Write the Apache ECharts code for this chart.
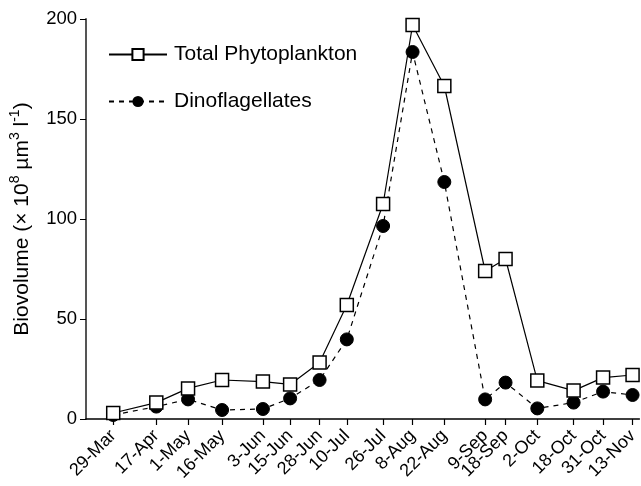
<!DOCTYPE html>
<html>
<head>
<meta charset="utf-8">
<script src="https://cdn.jsdelivr.net/npm/echarts@6/dist/echarts.min.js"></script>
<style>html,body{margin:0;padding:0;background:#fff}#c{width:641px;height:486px}</style>
</head>
<body>
<div id="c"></div>
<script>
var dates = ['2001-03-29','2001-04-17','2001-05-01','2001-05-16','2001-06-03','2001-06-15','2001-06-28','2001-07-10','2001-07-26','2001-08-08','2001-08-22','2001-09-09','2001-09-18','2001-10-02','2001-10-18','2001-10-31','2001-11-13'];
var dateLabels = ['29-Mar','17-Apr','1-May','16-May','3-Jun','15-Jun','28-Jun','10-Jul','26-Jul','8-Aug','22-Aug','9-Sep','18-Sep','2-Oct','18-Oct','31-Oct','13-Nov'];
var totalPhyto = [3, 8.2, 15.3, 19.5, 18.7, 17.3, 28.3, 57, 107.5, 197, 166.5, 74, 80, 19.2, 14.2, 20.7, 22];
var dinoflag = [2, 6.2, 9.8, 4.5, 5, 10.3, 19.5, 39.8, 96.5, 183.5, 118.5, 9.8, 18.2, 5.3, 8.2, 13.7, 12];
var xStart = '2001-03-17', xEnd = '2001-11-16';

function day(s){var p=s.split('-');return Math.round(Date.UTC(+p[0],+p[1]-1,+p[2])/86400000);}
var days = dates.map(day);
var chart = echarts.init(document.getElementById('c'));
var font = 'Liberation Sans, Arial, sans-serif';
chart.setOption({
  animation:false,
  grid:{left:82,right:1,top:19,bottom:67},
  legend:{
    orient:'vertical', left:103, top:39, itemGap:26, itemWidth:58, itemHeight:14,
    textStyle:{fontFamily:font,fontSize:21,color:'#000',padding:[0,0,0,2]},
    data:['Total Phytoplankton','Dinoflagellates']
  },
  xAxis:{
    type:'value',
    min:day(xStart), max:day(xEnd),
    axisLine:{lineStyle:{color:'#000',width:1.5}},
    splitLine:{show:false},
    axisTick:{customValues:days,length:6,lineStyle:{color:'#000',width:1.2}},
    axisLabel:{customValues:days,rotate:45,margin:14,fontFamily:font,fontSize:18,color:'#000',
      formatter:function(v){var i=days.indexOf(Math.round(v));return i>=0?dateLabels[i]:'';}}
  },
  yAxis:{
    type:'value', min:0, max:200, interval:50,
    name:'{a|Biovolume (× 10}{s|8}{a| µm}{s|3}{a| l}{s|-1}{a|)}', nameLocation:'middle', nameGap:53,
    nameTextStyle:{fontFamily:font,fontSize:21,color:'#000',
      rich:{a:{fontFamily:font,fontSize:21,color:'#000',lineHeight:25,verticalAlign:'bottom'},
            s:{fontFamily:font,fontSize:14,color:'#000',lineHeight:25,verticalAlign:'top'}}},
    axisLine:{show:true,lineStyle:{color:'#555',width:2}},
    axisTick:{show:true,length:6,lineStyle:{color:'#000'}},
    splitLine:{show:false},
    axisLabel:{fontFamily:font,fontSize:18.5,color:'#000',margin:9}
  },
  series:[
    {name:'Total Phytoplankton',type:'line',symbol:'rect',symbolSize:13,z:3,
     data:days.map(function(t,i){return [t,totalPhyto[i]];}),
     lineStyle:{color:'#000',width:1.2},
     itemStyle:{color:'#fff',borderColor:'#000',borderWidth:1.5}},
    {name:'Dinoflagellates',type:'line',symbol:'circle',symbolSize:13,z:2,
     data:days.map(function(t,i){return [t,dinoflag[i]];}),
     lineStyle:{color:'#000',width:1.2,type:[5,5]},
     itemStyle:{color:'#000',borderColor:'#000'}}
  ]
});
</script>
</body>
</html>
